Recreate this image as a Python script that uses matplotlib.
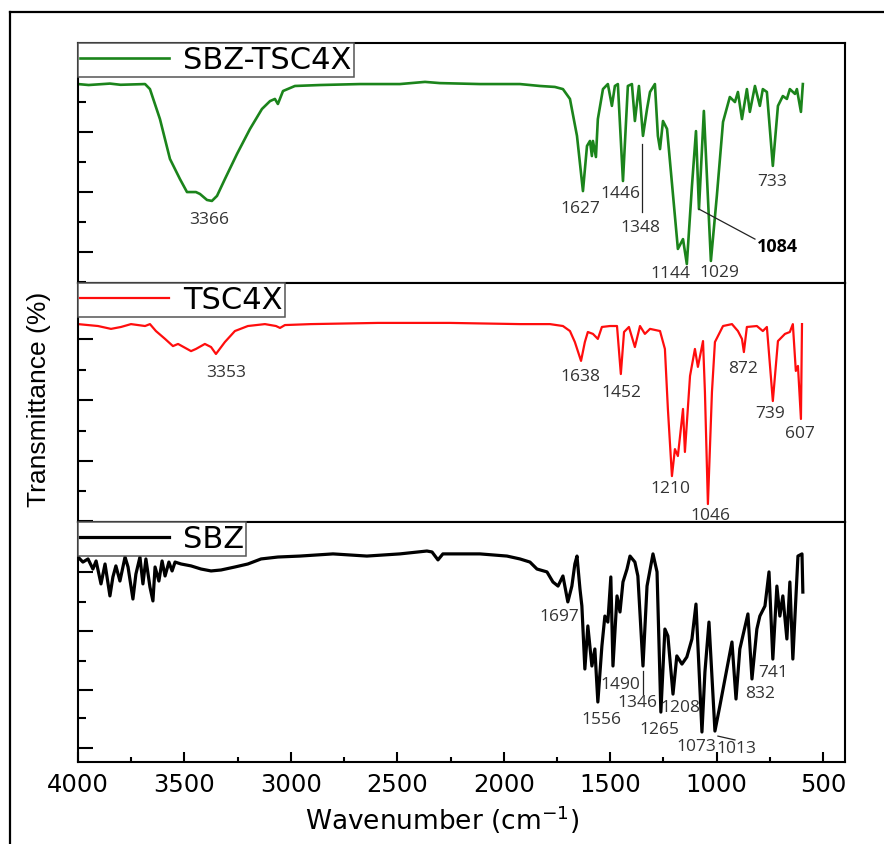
import matplotlib
matplotlib.use("Agg")
import matplotlib.pyplot as plt
from matplotlib.lines import Line2D
from matplotlib.ticker import MultipleLocator, FixedLocator, NullFormatter
from matplotlib import font_manager

# --- spectra (wavenumber in cm-1, transmittance in panel units) ---
sbz_tsc4x_wn = [4000, 3950, 3850, 3800, 3685, 3662, 3615, 3568, 3521, 3488, 3446, 3427, 3394, 3371,
                3347, 3310, 3253, 3192, 3136, 3098, 3075, 3061, 3037, 2981, 2863, 2675, 2488, 2370,
                2300, 2112, 1924, 1830, 1760, 1722, 1689, 1656, 1628, 1609, 1595, 1586, 1581, 1567,
                1558, 1534, 1511, 1492, 1478, 1464, 1440, 1417, 1398, 1384, 1365, 1346, 1327, 1313,
                1290, 1276, 1266, 1252, 1233, 1182, 1158, 1140, 1116, 1097, 1083, 1060, 1027, 999,
                970, 938, 914, 900, 881, 858, 844, 820, 797, 783, 764, 736, 712, 689, 670, 656, 632,
                623, 604, 595]
sbz_tsc4x_t = [82.9, 82.5, 83.1, 82.6, 82.9, 80.8, 68.3, 51.7, 43.3, 37.9, 37.9, 37.1, 34.6, 34.2,
               36.3, 43.3, 53.8, 64.2, 72.5, 75.8, 76.7, 74.6, 80.0, 82.1, 82.5, 82.9, 82.9, 83.8,
               83.3, 82.9, 82.9, 82.1, 81.7, 80.8, 76.7, 61.3, 38.3, 57.1, 59.2, 52.9, 59.2, 52.5,
               68.3, 80.8, 82.9, 73.8, 82.1, 82.9, 42.5, 82.1, 82.9, 67.5, 82.1, 61.3, 72.5, 79.6,
               82.9, 61.3, 55.8, 67.5, 64.2, 14.2, 18.3, 7.9, 40.4, 63.3, 30.8, 71.7, 9.2, 36.3,
               67.1, 77.5, 75.4, 79.6, 68.3, 80.8, 71.3, 82.1, 73.8, 80.8, 79.6, 48.8, 73.8, 77.9,
               76.7, 80.8, 78.8, 80.8, 71.3, 82.9]

tsc4x_wn = [4000, 3906, 3845, 3798, 3751, 3685, 3662, 3634, 3591, 3554, 3530, 3469, 3446, 3404,
            3375, 3352, 3310, 3263, 3202, 3122, 3070, 3051, 3028, 2906, 2591, 2253, 1924, 1783,
            1722, 1689, 1666, 1637, 1619, 1605, 1581, 1558, 1539, 1501, 1468, 1450, 1435, 1412,
            1384, 1360, 1337, 1313, 1266, 1243, 1229, 1210, 1196, 1182, 1158, 1149, 1125, 1102,
            1088, 1064, 1055, 1041, 1022, 1008, 970, 928, 900, 881, 872, 858, 811, 783, 764, 736,
            712, 679, 656, 642, 628, 618, 604, 599]
tsc4x_t = [82.8, 82.0, 80.8, 81.6, 82.8, 82.0, 82.8, 79.9, 76.6, 73.6, 74.5, 71.5, 72.4, 74.5,
           73.2, 70.3, 75.3, 79.9, 82.0, 82.8, 82.0, 81.2, 82.4, 82.8, 83.3, 83.3, 82.8, 82.8,
           82.0, 79.9, 75.3, 67.4, 75.3, 79.5, 78.7, 76.6, 81.6, 82.0, 82.0, 61.9, 79.5, 81.6,
           73.2, 82.0, 78.7, 80.8, 79.9, 72.4, 47.3, 19.2, 30.5, 27.6, 47.3, 29.3, 61.1, 72.4,
           64.9, 75.7, 54.4, 7.5, 54.4, 75.3, 82.0, 82.8, 79.9, 76.6, 71.1, 81.6, 82.0, 79.9,
           81.6, 50.6, 75.7, 78.7, 79.5, 82.8, 63.2, 65.3, 43.1, 82.8]

sbz_wn = [4000, 3977, 3953, 3930, 3915, 3892, 3873, 3850, 3836, 3822, 3803, 3779, 3765, 3742,
          3728, 3709, 3695, 3681, 3662, 3648, 3638, 3620, 3605, 3591, 3573, 3558, 3544, 3516,
          3469, 3422, 3375, 3328, 3263, 3202, 3140, 3061, 2957, 2802, 2643, 2488, 2361, 2337,
          2309, 2286, 2112, 1985, 1924, 1877, 1844, 1797, 1769, 1745, 1722, 1699, 1680, 1666,
          1656, 1642, 1633, 1619, 1605, 1586, 1572, 1558, 1539, 1525, 1511, 1497, 1487, 1468,
          1454, 1440, 1421, 1407, 1384, 1370, 1346, 1327, 1299, 1280, 1262, 1243, 1229, 1205,
          1187, 1163, 1140, 1116, 1097, 1069, 1055, 1036, 1008, 985, 952, 928, 909, 891, 853,
          834, 811, 797, 773, 754, 736, 717, 703, 689, 670, 656, 642, 618, 599, 595]
sbz_t = [85.4, 83.3, 84.6, 80.4, 83.75, 74.2, 82.5, 69.2, 77.1, 81.7, 75.4, 85.4, 81.25, 67.9,
         78.3, 85.4, 74.2, 84.6, 72.9, 67.1, 81.25, 75.4, 83.75, 77.5, 83.3, 79.6, 83.3, 82.5,
         81.7, 80.4, 79.6, 80.0, 81.25, 82.5, 84.6, 85.4, 85.8, 86.7, 85.8, 86.7, 87.9, 87.5,
         84.2, 86.7, 86.7, 85.8, 84.6, 83.3, 80.4, 79.2, 75.0, 73.3, 77.5, 66.7, 73.3, 82.5,
         85.8, 72.1, 65.0, 38.75, 56.7, 40.0, 47.1, 25.0, 48.3, 60.8, 58.3, 77.1, 40.0, 69.2,
         62.5, 75.0, 80.4, 85.8, 83.3, 77.5, 40.0, 73.3, 86.7, 79.2, 20.8, 55.4, 52.5, 28.3,
         44.2, 40.8, 43.75, 51.25, 65.8, 12.5, 37.5, 58.3, 12.9, 23.3, 38.75, 50.0, 26.25, 47.1,
         61.7, 34.6, 55.4, 60.8, 65.0, 79.2, 42.9, 73.3, 60.8, 69.2, 51.25, 75.0, 42.9, 85.8,
         86.7, 70.8]

# peak labels: (text, wavenumber, transmittance) where the text sits
sbz_tsc4x_peaks = [("3366", 3385, 26.7), ("1627", 1642, 31.3), ("1446", 1454, 37.5),
                   ("1348", 1356, 23.3), ("1144", 1219, 4.2), ("1029", 989, 4.6), ("733", 740, 42.5)]
tsc4x_peaks = [("3353", 3305, 62.8), ("1638", 1642, 61.1), ("1452", 1445, 54.4),
               ("1210", 1219, 14.2), ("1046", 1031, 2.9), ("872", 877, 64.4),
               ("739", 750, 45.6), ("607", 609, 37.2)]
sbz_peaks = [("1697", 1741, 60.8), ("1556", 1539, 17.9), ("1490", 1454, 32.5),
             ("1346", 1370, 25.0), ("1208", 1172, 22.9), ("1265", 1271, 13.75),
             ("1073", 1097, 6.7), ("1013", 905, 5.8), ("832", 797, 28.75), ("741", 736, 37.5)]

# leader lines from peak to its label
sbz_tsc4x_leaders = [((1351, 57.9), (1351, 29.6)), ((1083, 30.8), (820, 18.3))]
tsc4x_leaders = []
sbz_leaders = [((1346, 37.9), (1346, 28.3)), ((994, 10.8), (914, 9.2))]

plt.rcParams['font.family'] = 'DejaVu Sans'
plt.rcParams['mathtext.default'] = 'regular'

fig = plt.figure(figsize=(8.84, 8.45), dpi=100)

# outer frame around the figure (only left and top show)
fig.add_artist(Line2D([0.0113, 0.0113], [0.0, 0.9846], color='black', lw=1.6, transform=fig.transFigure))
fig.add_artist(Line2D([0.0113, 1.0], [0.9846, 0.9846], color='black', lw=1.6, transform=fig.transFigure))

left = 78 / 884
width = (845 - 78) / 884
# bottom edge and height of each panel in figure fraction
boxes = [(0.6639, 0.2840), (0.3811, 0.2828), (0.0970, 0.2841)]

panels = [
    (sbz_tsc4x_wn, sbz_tsc4x_t, 'SBZ-TSC4X', '#1b841b', 1.9, sbz_tsc4x_peaks, sbz_tsc4x_leaders,
     [13, 38, 63, 88], [0.5, 25.5, 50.5, 75.5]),
    (tsc4x_wn, tsc4x_t, 'TSC4X', '#ff0d0d', 1.6, tsc4x_peaks, tsc4x_leaders,
     [0.5, 25.5, 51, 76.5], [13, 38, 63.5, 89]),
    (sbz_wn, sbz_t, 'SBZ', 'black', 2.3, sbz_peaks, sbz_leaders,
     [5.8, 30, 54.6, 79.2], [18.3, 42.1, 66.7, 91]),
]

axes = []
for i, (wn, t, name, col, lw, peaks, leaders, major, minor) in enumerate(panels):
    b, h = boxes[i]
    ax = fig.add_axes([left, b, width, h])
    ax.plot(wn, t, color=col, lw=lw, label=name, solid_joinstyle='round')
    ax.set_xlim(4000, 397)
    ax.set_ylim(0, 100)
    for s in ax.spines.values():
        s.set_linewidth(1.5)
    ax.yaxis.set_major_locator(FixedLocator(major))
    ax.yaxis.set_minor_locator(FixedLocator(minor))
    ax.yaxis.set_major_formatter(NullFormatter())
    ax.tick_params(axis='y', which='major', direction='in', length=10.5, width=1.5, right=False)
    ax.tick_params(axis='y', which='minor', direction='in', length=5.5, width=1.5, right=False)

    for txt, x, y in peaks:
        ax.text(x, y, txt, ha='center', va='center', fontsize=12.5, color='#333333',
                family=['Open Sans', 'DejaVu Sans'])
    for (x0, y0), (x1, y1) in leaders:
        ax.plot([x0, x1], [y0, y1], color='#222222', lw=0.9)

    leg = ax.legend(loc='upper left', bbox_to_anchor=(0, 1), borderaxespad=0, fontsize=22,
                    handlelength=2.9, handletextpad=0.45, borderpad=0.08, fancybox=False,
                    framealpha=1, edgecolor='#555555')
    leg.get_frame().set_linewidth(1.1)
    axes.append(ax)

# bold 1084 label in the top panel
axes[0].text(811, 15.4, "1084", ha='left', va='center', fontsize=13, fontweight='bold',
             color='black', family=['Open Sans', 'DejaVu Sans'])

# x axis only on the bottom panel
for ax in axes[:2]:
    ax.tick_params(axis='x', which='both', bottom=False, top=False, labelbottom=False)
bx = axes[2]
bx.xaxis.set_major_locator(MultipleLocator(500))
bx.xaxis.set_minor_locator(MultipleLocator(250))
bx.tick_params(axis='x', which='major', direction='in', length=7, width=1.5, labelsize=17.5, pad=7, top=False)
bx.tick_params(axis='x', which='minor', direction='in', length=3.5, width=1.5, top=False)
bx.set_xlabel('Wavenumber (cm$^{-1}$)', fontsize=19, va='center')
bx.xaxis.set_label_coords(0.475, -0.235)

# y label, condensed font if there is one
names = {f.name for f in font_manager.fontManager.ttflist}
if 'Liberation Sans Narrow' in names:
    fig.text(0.044, 0.527, 'Transmittance (%)', rotation=90, ha='center', va='center',
             fontsize=22, family='Liberation Sans Narrow')
else:
    fig.text(0.044, 0.527, 'Transmittance (%)', rotation=90, ha='center', va='center',
             fontsize=19, family='Liberation Sans')

fig.savefig('out.png', dpi=100)
